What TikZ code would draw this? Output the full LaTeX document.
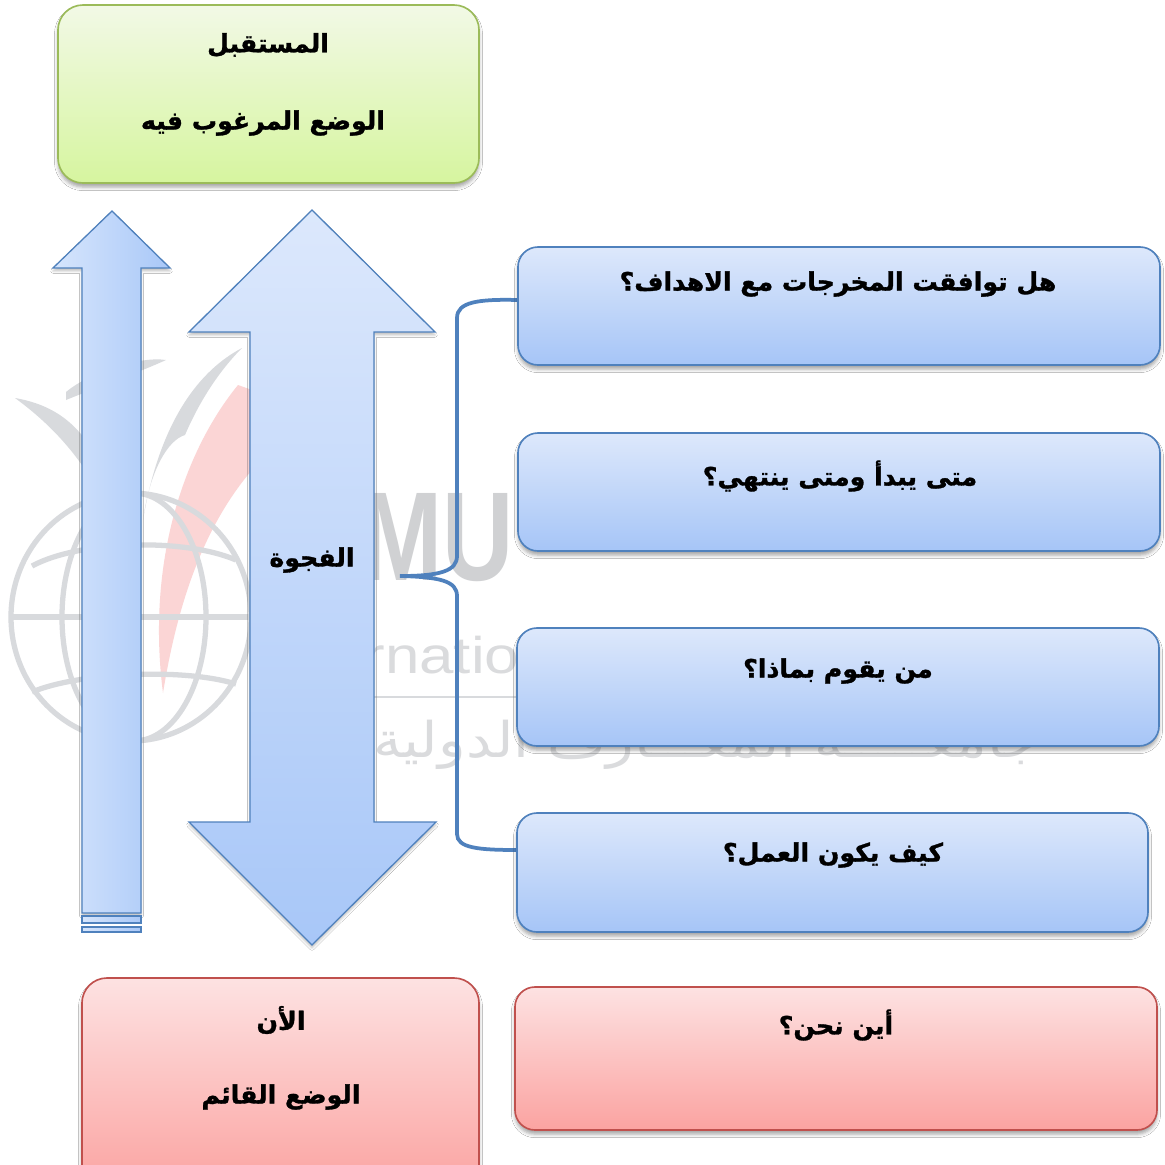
\documentclass[tikz,border=0pt]{standalone}
\usepackage{fontspec}
\usepackage{graphicx}
\TeXXeTstate=1
\newfontfamily\arabicfont[Script=Arabic, BoldFeatures={FakeBold=1.2}]{DejaVu Sans}
\newfontfamily\wmarabic[Script=Arabic]{DejaVu Sans}
\newfontfamily\wmfont{Liberation Sans}
\usetikzlibrary{shadows.blur}
\definecolor{bluedge}{HTML}{4F81BD}
\definecolor{bluetop}{HTML}{DDE8FB}
\definecolor{bluebot}{HTML}{A6C5F7}
\definecolor{arrowtop}{HTML}{DCE8FC}
\definecolor{arrowbot}{HTML}{A8C7F8}
\definecolor{arrowleft}{HTML}{D6E5FC}
\definecolor{arrowright}{HTML}{A9C8F8}
\definecolor{greenedge}{HTML}{9BBB59}
\definecolor{greentop}{HTML}{F2F9E6}
\definecolor{greenbot}{HTML}{D6F59F}
\definecolor{rededge}{HTML}{C0504D}
\definecolor{redtop}{HTML}{FDE2E2}
\definecolor{redbot}{HTML}{FBA3A1}
\definecolor{wmgray}{HTML}{D8DADD}
\definecolor{wmtext}{HTML}{D0D1D3}
\definecolor{wmlight}{HTML}{DADBDD}
\definecolor{wmred}{HTML}{FBD5D5}
\begin{document}
\begin{tikzpicture}[x=0.03cm,y=-0.03cm,
  card/.style={draw, line width=1.4pt, inner sep=0pt,
    blur shadow={shadow xshift=0pt, shadow yshift=-3.5pt, shadow blur radius=3pt, shadow opacity=35}},
  bluecard/.style={card, draw=bluedge, top color=bluetop, bottom color=bluebot,
    rounded corners=0.6cm, minimum width=19.26cm, minimum height=3.54cm},
  greencard/.style={card, draw=greenedge, top color=greentop, bottom color=greenbot, rounded corners=0.75cm},
  redcard/.style={card, draw=rededge, top color=redtop, bottom color=redbot, rounded corners=0.75cm},
  lbl/.style={font=\arabicfont\bfseries\fontsize{21.5}{25}\selectfont, inner sep=0pt, text=black},
  arrowline/.style={draw=bluedge, line width=1.1pt},
  bracestyle/.style={draw=bluedge, line width=3.2pt, line cap=round},
  wmline/.style={draw=wmgray, line width=4.5pt},
]
\useasboundingbox (0,0) rectangle (1165,1165);
\fill[white] (0,0) rectangle (1165,1165);

% ---------- faint watermark ----------
\fill[wmred] (238,385) .. controls (185,450) and (146,560) .. (163,693) .. controls (178,600) and (205,525) .. (252,470) -- (252,390) -- cycle;
\draw[wmline] (131,617) ellipse (120 and 124);
\draw[wmline] (134,617) ellipse (72 and 124);
\draw[wmline] (11,617) -- (251,617);
\draw[wmline] (32,566) .. controls (80,540) and (185,538) .. (236,560);
\draw[wmline] (32,692) .. controls (80,672) and (185,668) .. (236,684);
\fill[wmgray] (15,398) .. controls (55,405) and (82,425) .. (102,468) -- (92,480) .. controls (70,445) and (45,420) .. cycle;
\fill[wmgray] (66,392) .. controls (90,372) and (140,356) .. (166,360) .. controls (140,372) and (95,388) .. (66,400) -- cycle;
\fill[wmgray] (242,348) .. controls (200,370) and (160,420) .. (143,520) .. controls (150,470) and (168,440) .. (185,435) .. controls (200,400) and (220,370) .. cycle;
\node[font=\wmfont\bfseries\fontsize{108}{108}\selectfont, text=wmtext, inner sep=0pt, anchor=base west] (wmMU) at (360,580) {\scalebox{0.78}[1]{MU}};
\node[font=\wmfont\fontsize{44}{44}\selectfont, text=wmlight, inner sep=0pt, anchor=base west] (wmInt) at (261,673) {\scalebox{1.2}[1]{International}};
\draw[wmgray, line width=1.2pt] (300,697) -- (1000,697);
\node[font=\wmarabic\fontsize{42}{46}\selectfont, text=wmlight, inner sep=0pt, anchor=base east] (wmAr) at (1040,757)
  {\resizebox{20cm}{\height}{\beginR جامعـــــة المعـــارف الدولية\endR}};

% ---------- arrows ----------
\path[arrowline, left color=arrowleft, right color=arrowright,
  blur shadow={shadow xshift=0pt, shadow yshift=-2.5pt, shadow blur radius=2pt, shadow opacity=25}]
  (112,211) -- (170,268) -- (141,268) -- (141,913) -- (82,913) -- (82,268) -- (53,268) -- cycle;
\path[arrowline, left color=arrowleft, right color=arrowright] (82,916) rectangle (141,923);
\path[arrowline, left color=arrowleft, right color=arrowright] (82,927) rectangle (141,932);

\path[arrowline, top color=arrowtop, bottom color=arrowbot,
  blur shadow={shadow xshift=0pt, shadow yshift=-2.5pt, shadow blur radius=2pt, shadow opacity=25}]
  (312,210) -- (435,332) -- (374,332) -- (374,822) -- (436,822) -- (312,945)
  -- (189,822) -- (250,822) -- (250,332) -- (189,332) -- cycle;
\node[lbl] (gap) at (312,560) {\beginR الفجوة\endR};

% ---------- boxes ----------
\node[greencard, minimum width=12.63cm, minimum height=5.34cm] (future) at (268.5,94) {};
\node[lbl] (futA) at (268,45) {\beginR المستقبل\endR};
\node[lbl] (futB) at (263,123) {\beginR الوضع المرغوب فيه\endR};

\node[redcard, minimum width=11.91cm, minimum height=6.36cm] (now) at (280.5,1084) {};
\node[lbl] (nowA) at (281,1020) {\beginR الأن\endR};
\node[lbl] (nowB) at (281,1097) {\beginR الوضع القائم\endR};

\coordinate (bt) at (518,300);
\coordinate (bb) at (518,850);
\coordinate (btip) at (400,576);
\draw[bracestyle] (bt) .. controls (478,299) and (457,302) .. (457,318) -- (457,556)
  .. controls (457,571) and (440,576) .. (btip)
  .. controls (440,577) and (457,581) .. (457,596) -- (457,834)
  .. controls (457,848) and (478,850) .. (bb);

\node[bluecard] (q1) at (839,306) {};
\node[bluecard] (q2) at (839,492) {};
\node[bluecard] (q3) at (838,687) {};
\node[bluecard, minimum width=18.93cm, minimum height=3.57cm] (q4) at (832.5,872.5) {};
\node[redcard, rounded corners=0.6cm, minimum width=19.26cm, minimum height=4.29cm] (where) at (836,1058.5) {};

\node[lbl] (q1t) at (838,284) {\beginR هل توافقت المخرجات مع الاهداف؟\endR};
\node[lbl] (q2t) at (840,476) {\beginR متى يبدأ ومتى ينتهي؟\endR};
\node[lbl] (q3t) at (838,671) {\beginR من يقوم بماذا؟\endR};
\node[lbl] (q4t) at (833,855) {\beginR كيف يكون العمل؟\endR};
\node[lbl] (wt) at (836,1025) {\beginR أين نحن؟\endR};
\end{tikzpicture}
\end{document}
